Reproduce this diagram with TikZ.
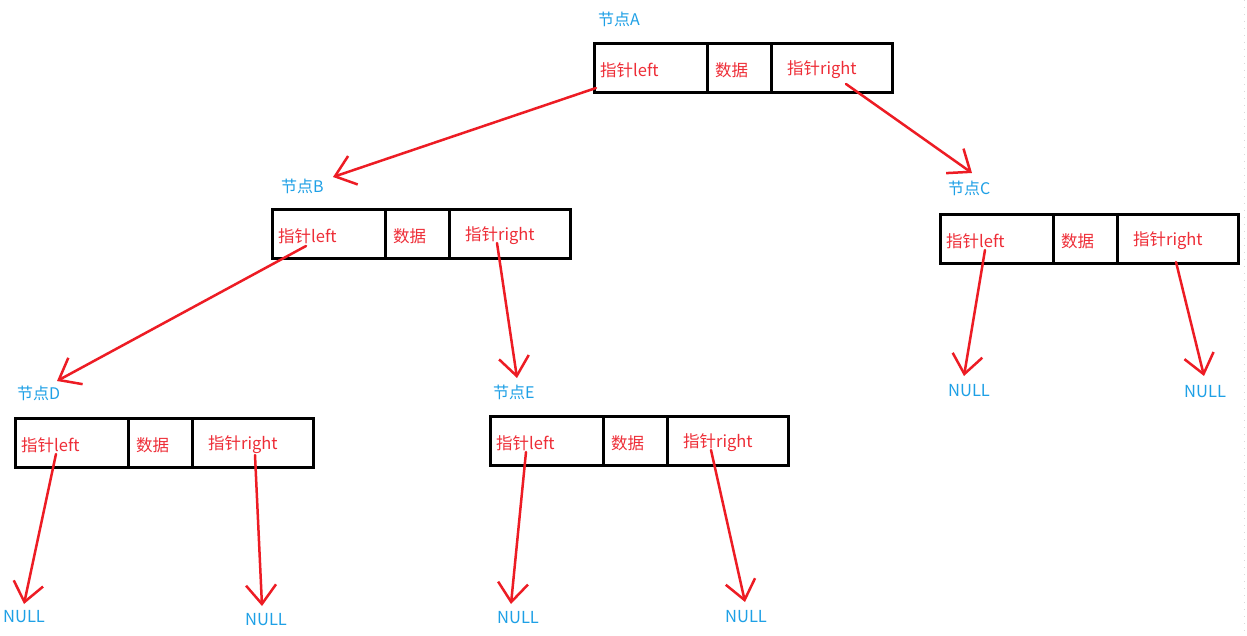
\documentclass[tikz,border=0pt]{standalone}
\usepackage{fontspec}
\setmainfont{Noto Sans CJK SC}
\usetikzlibrary{arrows.meta}
\definecolor{ared}{RGB}{237,28,36}
\definecolor{tred}{RGB}{238,45,55}
\definecolor{lblue}{RGB}{30,160,230}
\tikzset{
  cell/.style={draw=black, line width=2.8pt, minimum height=49pt, inner sep=0pt, anchor=north west},
  ctext/.style={text=tred, font=\fontsize{16.5}{19}\selectfont, anchor=west, inner sep=0pt},
  ttl/.style={text=lblue, font=\fontsize{16}{19}\selectfont, anchor=west, inner sep=0pt},
  nul/.style={text=lblue, font=\fontsize{16.5}{19}\selectfont, anchor=west, inner sep=0pt},
  link/.style={draw=ared, line width=2.5pt, line cap=round, -{Straight Barb[length=19pt,width=30pt]}}
}
\newcommand\mkbox[3]{%
  \node[cell,minimum width=113pt] (#1l) at (#2,#3) {};
  \node[cell,minimum width=64pt] (#1d) at ({#2+113},#3) {};
  \node[cell,minimum width=121pt] (#1r) at ({#2+177},#3) {};
  \node[ctext] (#1lt) at ({#2+7},{#3+28}) {指针left};
  \node[ctext] (#1dt) at ({#2+122},{#3+28}) {数据};
  \node[ctext] (#1rt) at ({#2+194},{#3+28}) {指针right};
}
\begin{document}
\begin{tikzpicture}[x=1pt,y=-1pt]
\useasboundingbox (0,0) rectangle (1247,636);
\fill[white] (0,0) rectangle (1247,636);
\draw[black!15, line width=0.8pt, dash pattern=on 1pt off 6pt] (1244,0) -- (1244,636);

\mkbox{A}{593}{42}
\mkbox{B}{271}{208}
\mkbox{C}{939}{213}
\mkbox{D}{14}{417}
\mkbox{E}{489}{415}

\node[ttl] (tA) at (598,19) {节点A};
\node[ttl] (tB) at (281,186) {节点B};
\node[ttl] (tC) at (948,188) {节点C};
\node[ttl] (tD) at (17,393) {节点D};
\node[ttl] (tE) at (493,392) {节点E};

\node[nul] (nDl) at (3,617) {NULL};
\node[nul] (nDr) at (245,620) {NULL};
\node[nul] (nEl) at (497,618) {NULL};
\node[nul] (nEr) at (725,617) {NULL};
\node[nul] (nCl) at (948,391) {NULL};
\node[nul] (nCr) at (1184,392) {NULL};

\coordinate (sAl) at (596,88);   \coordinate (eAl) at (333,177);
\coordinate (sAr) at (846,84);   \coordinate (eAr) at (972,173);
\coordinate (sBl) at (306,246);  \coordinate (eBl) at (57,381);
\coordinate (sBr) at (497,243);  \coordinate (eBr) at (517,378);
\coordinate (sCl) at (985,250);  \coordinate (eCl) at (964,376);
\coordinate (sCr) at (1176,262); \coordinate (eCr) at (1204,376);
\coordinate (sDl) at (56,454);   \coordinate (eDl) at (24,604);
\coordinate (sDr) at (255,455);  \coordinate (eDr) at (262,606);
\coordinate (sEl) at (526,452);  \coordinate (eEl) at (511,604);
\coordinate (sEr) at (711,450);  \coordinate (eEr) at (745,602);

\foreach \n in {Al,Ar,Bl,Br,Cl,Cr,Dl,Dr,El,Er}
  \draw[link] (s\n) -- (e\n);
\end{tikzpicture}
\end{document}
